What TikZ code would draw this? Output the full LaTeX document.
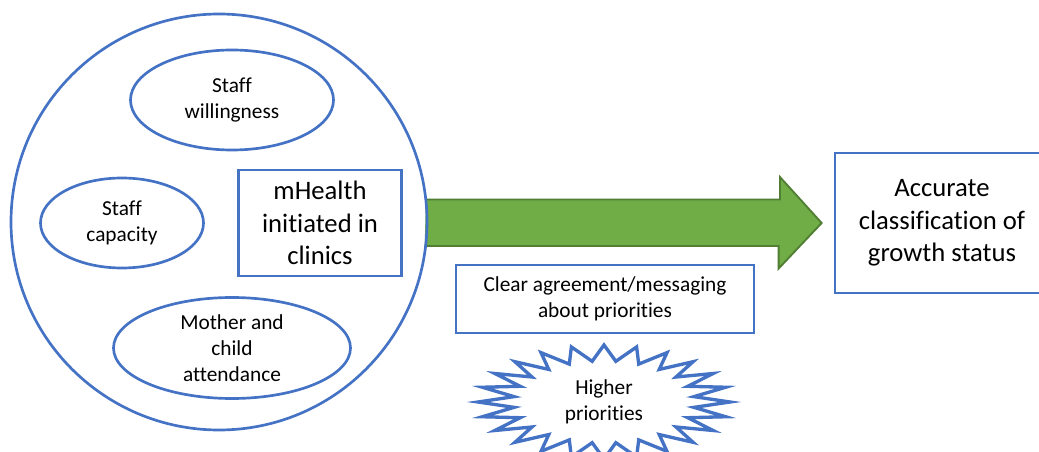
\documentclass[tikz,border=0pt]{standalone}
\usepackage{fontspec}
\setmainfont{Carlito}[Ligatures={NoCommon,NoRare,NoContextual}]
\usepackage{xcolor}
\usepackage{tikz}
\usetikzlibrary{shapes,shapes.geometric,positioning,calc}

\definecolor{officeblue}{HTML}{4472C4}
\definecolor{arrowgreen}{HTML}{70AD47}
\definecolor{arrowedge}{HTML}{507E32}

\begin{document}
\begin{tikzpicture}[
    x=0.75pt, y=-0.75pt,
    factor/.style={draw=officeblue, line width=2pt, ellipse, inner sep=0pt,
                   align=center, font=\fontsize{16}{19.5}\selectfont},
    bigbox/.style={draw=officeblue, line width=2pt, rectangle, inner sep=0pt,
                   align=center, font=\fontsize{20}{24.4}\selectfont},
    smallbox/.style={draw=officeblue, line width=2pt, rectangle, inner sep=0pt,
                     align=center, font=\fontsize{16}{19.5}\selectfont},
    growedge/.style={draw=arrowedge, line width=1.4pt, line join=miter}
]
    \useasboundingbox (0,0) rectangle (1039,452);

    % Outcome box (runs off the right edge)
    \node[bigbox, minimum width=214*0.75pt, minimum height=140*0.75pt] (acc) at (942,223)
        {Accurate\\classification of\\growth status};

    % Context circle
    \node[circle, minimum size=416*0.75pt, inner sep=0pt] (circ) at (219,222) {};

    % Big green arrow from circle to outcome
    \coordinate (tail) at ([xshift=-1pt]circ.east);
    \coordinate (tip) at ([xshift=-9pt]acc.west);
    \fill[arrowgreen] (tail) ++(0,-22.5) -- ++(354,0) -- ++(0,-22.5)
        -- (tip) -- ++(-43,45.5) -- ++(0,-22.5) -- ++(-354,0) -- cycle;
    \draw[growedge] (tail) ++(0,-22.5) -- ++(354,0) -- ++(0,-22.5)
        -- (tip) -- ++(-43,45.5) -- ++(0,-22.5) -- ++(-354,0);

    \draw[officeblue, line width=2pt] (circ.center) circle[radius=208];

    % Factors inside the circle
    \node[factor, minimum width=203*0.75pt, minimum height=100*0.75pt] (will) at (232,100)
        {Staff\\willingness};
    \node[factor, minimum width=163*0.75pt, minimum height=90*0.75pt] (cap) at (122,223)
        {Staff\\capacity};
    \node[factor, minimum width=237*0.75pt, minimum height=101*0.75pt] (att) at (232,348)
        {Mother and\\child\\attendance};
    \node[bigbox, minimum width=163*0.75pt, minimum height=106*0.75pt] (mh) at (320,223)
        {mHealth\\initiated in\\clinics};

    % Agreement box under the arrow
    \node[smallbox, minimum width=298*0.75pt, minimum height=68*0.75pt] (agree) at (605,299)
        {Clear agreement/messaging\\about priorities};

    % Starburst of competing priorities
    \node[align=center, font=\fontsize{16}{19.5}\selectfont] (prio) at (604,402)
        {Higher\\priorities};
    \draw[officeblue, line width=2.5pt, line join=miter, shift={(prio.center)}]
        plot[samples at={0,...,47}, variable=\k]
        ({(1-0.28*mod(\k,2))*126*cos(90+7.5*\k)}, {-(1-0.28*mod(\k,2))*57*sin(90+7.5*\k)})
        -- cycle;
\end{tikzpicture}
\end{document}
